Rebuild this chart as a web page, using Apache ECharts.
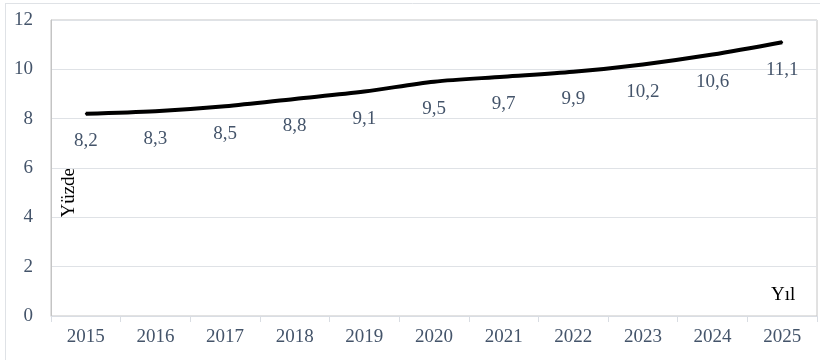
<!DOCTYPE html>
<html><head><meta charset="utf-8">
<script src="https://cdn.jsdelivr.net/npm/echarts@6/dist/echarts.min.js"></script>
<style>html,body{margin:0;padding:0;background:#fff}#c{width:820px;height:360px}</style>
</head><body><div id="c"></div>
<script>
const years = ['2015','2016','2017','2018','2019','2020','2021','2022','2023','2024','2025'];
const values = [8.2, 8.3, 8.5, 8.8, 9.1, 9.5, 9.7, 9.9, 10.2, 10.6, 11.1];
const yTicks = [0, 2, 4, 6, 8, 10, 12];
const yAxisTitle = 'Yüzde';
const xAxisTitle = 'Yıl';

const serif = '"Liberation Serif", "DejaVu Serif", serif';
const textColor = '#44546a';
const chart = echarts.init(document.getElementById('c'), null, {renderer: 'canvas'});

const sheetLines = [];
sheetLines.push({type:'line', shape:{x1:5,y1:3.5,x2:820,y2:3.5}, style:{stroke:'#dfe2e6', lineWidth:1}, silent:true});
sheetLines.push({type:'line', shape:{x1:5.5,y1:3,x2:5.5,y2:360}, style:{stroke:'#dfe2e6', lineWidth:1}, silent:true});

chart.setOption({
  animation: false,
  backgroundColor: '#fff',
  grid: {left: 51, right: 3, top: 20, bottom: 44, show: true, borderColor: '#c4c4c4', borderWidth: 1, containLabel: false},
  xAxis: {
    type: 'category', data: years, boundaryGap: true,
    axisLine: {lineStyle: {color: '#d9dde3', width: 1}},
    axisTick: {show: true, length: 6, lineStyle: {color: '#d9dde3'}},
    axisLabel: {color: textColor, fontFamily: serif, fontSize: 19, margin: 12}
  },
  yAxis: {
    type: 'value', min: yTicks[0], max: yTicks[yTicks.length-1], interval: 2,
    axisLine: {show: true, lineStyle: {color: '#c4c4c4'}},
    axisTick: {show: false},
    splitLine: {lineStyle: {color: '#dfe2e6', width: 1}},
    axisLabel: {color: textColor, fontFamily: serif, fontSize: 19, margin: 18}
  },
  graphic: sheetLines.concat([
    {type: 'text', left: 60, top: 168, rotation: Math.PI/2, style: {text: yAxisTitle, font: '19px ' + serif, fill: '#000'}, silent: true},
    {type: 'text', left: 771, top: 286, style: {text: xAxisTitle, font: '19px ' + serif, fill: '#000'}, silent: true}
  ]),
  series: [{
    type: 'line', data: values, smooth: 0.3, symbol: 'circle', symbolSize: 2, showSymbol: true,
    itemStyle: {color: '#000'},
    lineStyle: {color: '#000', width: 4},
    label: {show: true, position: 'bottom', distance: 17, color: textColor, fontFamily: serif, fontSize: 19,
      formatter: function (p) { return String(p.value).replace('.', ','); }}
  }]
});
</script></body></html>
